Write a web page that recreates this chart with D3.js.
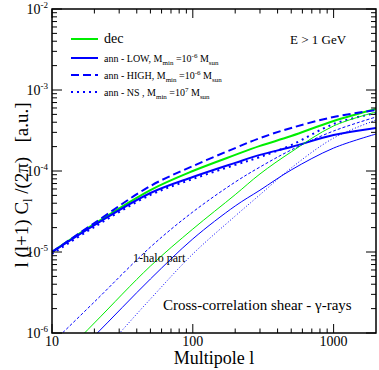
<!DOCTYPE html>
<html>
<head>
<meta charset="utf-8">
<script src="https://cdn.jsdelivr.net/npm/d3@7"></script>
<style>
  body { margin: 0; background: #fff; }
  svg text { font-family: "Liberation Serif", "Times New Roman", serif; fill: #000; }
</style>
</head>
<body>
<script>
const W = 379, H = 370;
const margin = { top: 9, right: 3, bottom: 37, left: 52 };

const ells = [10, 20, 50, 100, 200, 300, 500, 1000, 2000];

// total (2-halo + 1-halo), thick lines
const decTotal  = [1.0e-5, 2.22e-5, 5.82e-5, 1.0e-4, 1.58e-4, 2.04e-4, 2.7e-4, 4.14e-4, 5.82e-4];
const lowTotal  = [1.0e-5, 2.15e-5, 5.35e-5, 8.43e-5, 1.26e-4, 1.58e-4, 1.98e-4, 2.78e-4, 3.4e-4];
const highTotal = [1.0e-5, 2.28e-5, 6.53e-5, 1.15e-4, 1.92e-4, 2.55e-4, 3.4e-4, 4.64e-4, 5.66e-4];
const nsTotal   = [9.45e-6, 2.04e-5, 5.06e-5, 7.96e-5, 1.19e-4, 1.49e-4, 2.09e-4, 3.8e-4, 5.2e-4];

// 1-halo part, thin lines
const dec1h  = [3.9e-7, 1.33e-6, 6.7e-6, 1.92e-5, 5.1e-5, 9.2e-5, 1.72e-4, 3.6e-4, 5.35e-4];
const low1h  = [2.8e-7, 9.2e-7, 4.64e-6, 1.45e-5, 3.7e-5, 5.8e-5, 1.03e-4, 1.92e-4, 2.86e-4];
const high1h = [7.5e-7, 2.42e-6, 1.15e-5, 3.12e-5, 7.3e-5, 1.12e-4, 1.82e-4, 3.12e-4, 4.64e-4];
const ns1h   = [1.22e-7, 4.5e-7, 2.63e-6, 9.45e-6, 2.78e-5, 5.1e-5, 1.09e-4, 2.55e-4, 4.26e-4];

const xTicks = [10, 100, 1000];
const yTicks = [1e-6, 1e-5, 1e-4, 1e-3, 1e-2];

const series = [
  { vals: decTotal,  color: '#00ee00', width: 2,   dash: null },
  { vals: lowTotal,  color: '#0000ff', width: 2,   dash: null },
  { vals: highTotal, color: '#0000ff', width: 2,   dash: '8,4' },
  { vals: nsTotal,   color: '#0000ff', width: 2,   dash: '2,4' },
  { vals: dec1h,     color: '#00ee00', width: 1,   dash: null },
  { vals: low1h,     color: '#0000ff', width: 1,   dash: null },
  { vals: high1h,    color: '#0000ff', width: 1,   dash: '3,2' },
  { vals: ns1h,      color: '#0000ff', width: 1,   dash: '1,2' },
];

const legend = [
  { color: '#00ee00', dash: null,  big: 'dec' },
  { color: '#0000ff', dash: null,  lab: 'LOW,', exp: '-6' },
  { color: '#0000ff', dash: '8,4', lab: 'HIGH,', exp: '-6' },
  { color: '#0000ff', dash: '2,4', lab: 'NS ,', exp: '7' },
];

const svg = d3.select('body').append('svg')
    .attr('width', W)
    .attr('height', H);

const x = d3.scaleLog().domain([10, 2000]).range([margin.left, W - margin.right]);
const y = d3.scaleLog().domain([1e-6, 1e-2]).range([H - margin.bottom, margin.top]);

svg.append('clipPath').attr('id', 'clip')
  .append('rect')
    .attr('x', margin.left).attr('y', margin.top)
    .attr('width', W - margin.left - margin.right)
    .attr('height', H - margin.top - margin.bottom);

const line = d3.line()
    .x(d => x(d[0]))
    .y(d => y(d[1]))
    .curve(d3.curveCatmullRom.alpha(0.5));

svg.append('g').attr('clip-path', 'url(#clip)')
  .selectAll('path')
  .data(series).enter()
  .append('path')
    .attr('d', d => line(d.vals.map((v, i) => [ells[i], v])))
    .attr('fill', 'none')
    .attr('stroke', d => d.color)
    .attr('stroke-width', d => d.width)
    .attr('stroke-dasharray', d => d.dash);

// ticks on all four sides, pointing inward
const xMinor = d3.range(1, 4).flatMap(e => d3.range(2, 10).map(k => k * Math.pow(10, e)))
    .filter(v => v < 2000);
const yMinor = d3.range(-6, -2).flatMap(e => d3.range(2, 10).map(k => k * Math.pow(10, e)));

const axes = svg.append('g').attr('stroke', '#000').attr('stroke-width', 1);
const x0 = margin.left, x1 = W - margin.right, y0 = H - margin.bottom, y1 = margin.top;

xTicks.concat(xMinor).forEach(v => {
  const len = xTicks.includes(v) ? 9 : 4.5;
  axes.append('line').attr('x1', x(v)).attr('x2', x(v)).attr('y1', y0).attr('y2', y0 - len);
  axes.append('line').attr('x1', x(v)).attr('x2', x(v)).attr('y1', y1).attr('y2', y1 + len);
});
yTicks.concat(yMinor).forEach(v => {
  const len = yTicks.includes(v) ? 10 : 5;
  axes.append('line').attr('y1', y(v)).attr('y2', y(v)).attr('x1', x0).attr('x2', x0 + len);
  axes.append('line').attr('y1', y(v)).attr('y2', y(v)).attr('x1', x1).attr('x2', x1 - len);
});

svg.append('rect')
    .attr('x', x0).attr('y', y1)
    .attr('width', x1 - x0).attr('height', y0 - y1)
    .attr('fill', 'none').attr('stroke', '#000').attr('stroke-width', 1.5);

// tick labels
svg.selectAll('.xlab')
  .data(xTicks).enter()
  .append('text')
    .attr('x', d => x(d))
    .attr('y', y0 + 13)
    .attr('text-anchor', 'middle')
    .style('font-size', '14px')
    .text(d => d);

const ylab = svg.selectAll('.ylab')
  .data(yTicks).enter()
  .append('text')
    .attr('x', x0 - 4)
    .attr('y', d => y(d) + 5)
    .attr('text-anchor', 'end')
    .style('font-size', '14px');
ylab.append('tspan').text('10');
ylab.append('tspan')
    .attr('dy', -6)
    .style('font-size', '9px')
    .text(d => Math.round(Math.log10(d)));

// axis titles
svg.append('text')
    .attr('x', (x0 + x1) / 2)
    .attr('y', 364)
    .attr('text-anchor', 'middle')
    .style('font-size', '18px')
    .text('Multipole l');

const yt = svg.append('text')
    .attr('transform', `translate(28,${(y0 + y1) / 2 + 14}) rotate(-90)`)
    .attr('text-anchor', 'middle')
    .style('font-size', '19px');
yt.append('tspan').text('l (l+1) C');
yt.append('tspan').attr('dy', 4).style('font-size', '12px').text('l');
yt.append('tspan').attr('dy', -4).text(' /(2\u03c0)\u00a0\u00a0 [a.u.]');

// legend
const lg = svg.append('g');
const rowY = [39, 58, 75, 92];
legend.forEach((d, i) => {
  lg.append('line')
      .attr('x1', 71).attr('x2', 98)
      .attr('y1', rowY[i]).attr('y2', rowY[i])
      .attr('stroke', d.color).attr('stroke-width', 2)
      .attr('stroke-dasharray', d.dash);
  const t = lg.append('text').attr('x', 104).attr('y', rowY[i] + 4);
  if (d.big) {
    t.style('font-size', '14px').text(d.big);
    return;
  }
  t.style('font-size', '10px');
  t.append('tspan').text(`ann - ${d.lab} M`);
  t.append('tspan').attr('dy', 3).style('font-size', '7px').text('min');
  t.append('tspan').attr('dy', -3).text(' =10');
  t.append('tspan').attr('dy', -4).style('font-size', '7px').text(d.exp);
  t.append('tspan').attr('dy', 4).text(' M');
  t.append('tspan').attr('dy', 3).style('font-size', '7px').text('sun');
});

svg.append('text')
    .attr('x', 290).attr('y', 44)
    .style('font-size', '13px')
    .text('E > 1 GeV');

svg.append('text')
    .attr('x', 133).attr('y', 262)
    .style('font-size', '12px')
    .text('1-halo part');

svg.append('text')
    .attr('x', 163).attr('y', 310)
    .style('font-size', '15px')
    .text('Cross-correlation shear - \u03b3-rays');
</script>
</body>
</html>
